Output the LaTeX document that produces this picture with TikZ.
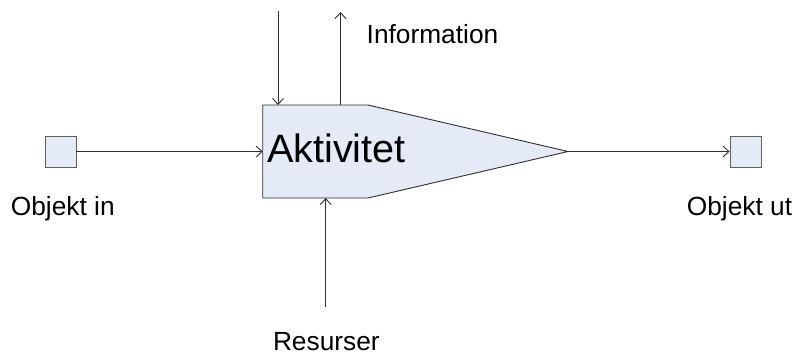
\documentclass[tikz,border=0pt]{standalone}
\usepackage{fontspec}
\setmainfont{Liberation Sans}
\usetikzlibrary{arrows.meta}
\definecolor{boxfill}{HTML}{E4EAF6}
\definecolor{linec}{HTML}{303030}
\definecolor{sqline}{HTML}{606060}
\begin{document}
\begin{tikzpicture}[x=1pt,y=-1pt,
  conn/.style={draw=linec,line width=0.9pt,-{Straight Barb[length=6pt,width=11pt,line width=0.9pt]}},
  lbl/.style={inner sep=0pt,anchor=base west,font=\fontsize{26.3}{30}\selectfont},
  objsq/.style={draw=sqline,fill=boxfill,line width=0.9pt,minimum size=31pt,inner sep=0pt}]
\useasboundingbox (0,0) rectangle (802,354);
% main activity shape
\draw[draw=linec,fill=boxfill,line width=0.9pt]
  (262.7,105) -- (368,105) -- (568,151.5) -- (368,198) -- (262.7,198) -- cycle;
\coordinate (left) at (262.7,151.5);
\coordinate (tip) at (568,151.5);
\coordinate (topin) at (278,105);
\coordinate (topinstart) at (278,11);
\coordinate (topout) at (340.5,105);
\coordinate (topoutend) at (340.5,12);
\coordinate (botin) at (325.7,198);
\coordinate (botinstart) at (325.7,307);
\node[inner sep=0pt,anchor=base west,font=\fontsize{39.6}{44}\selectfont] (akt) at (266.8,162.7) {Aktivitet};
% object squares
\node[objsq] (objin) at (60.5,151.5) {};
\node[objsq] (objut) at (745.5,151.5) {};
% labels
\node[lbl] (linf) at (366.5,43) {Information};
\node[lbl] (lin) at (10.7,215) {Objekt in};
\node[lbl] (lut) at (686.7,215) {Objekt ut};
\node[lbl] (lres) at (272.8,350) {Resurser};
% connectors
\draw[conn] (objin.east) -- (left);
\draw[conn] (tip) -- (objut.west);
\draw[conn] (topinstart) -- (topin);
\draw[conn] (topout) -- (topoutend);
\draw[conn] (botinstart) -- (botin);
\end{tikzpicture}
\end{document}
